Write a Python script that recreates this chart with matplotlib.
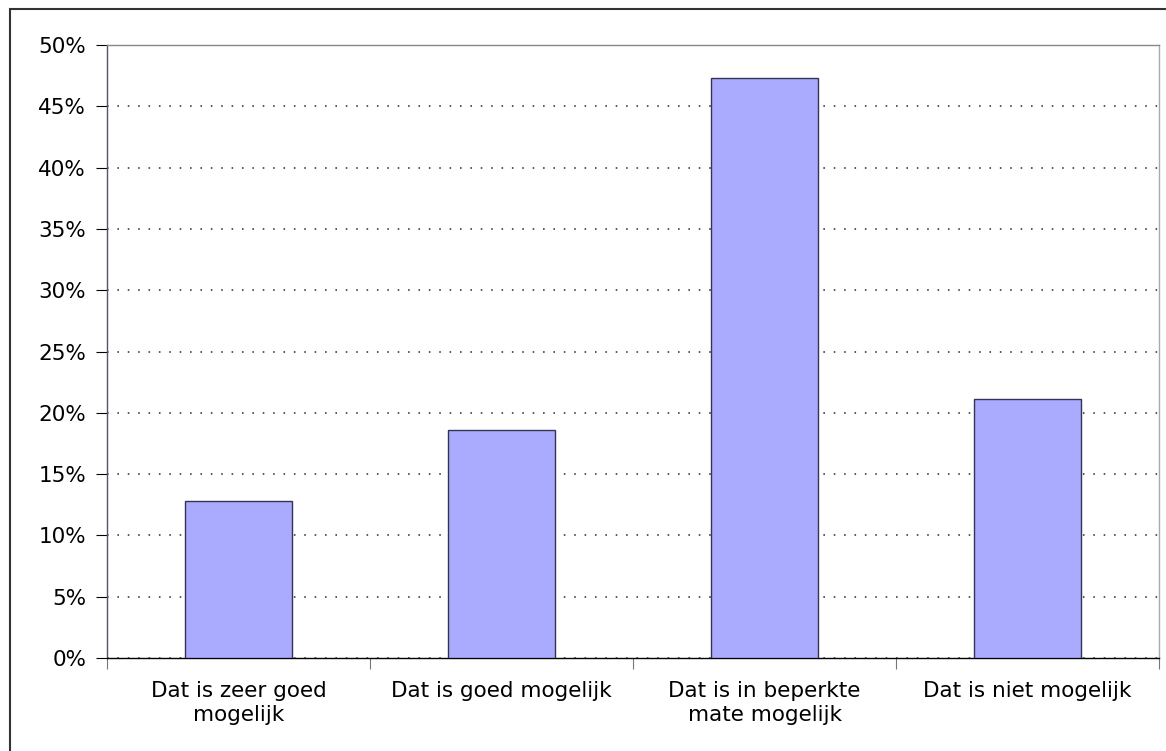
import matplotlib.pyplot as plt
import numpy as np
from matplotlib.patches import Rectangle

###############################################################################
# Data
categories = ["Dat is zeer goed\nmogelijk", "Dat is goed mogelijk",
              "Dat is in beperkte\nmate mogelijk", "Dat is niet mogelijk"]
values = [12.8, 18.6, 47.3, 21.1]
yticks = [0, 5, 10, 15, 20, 25, 30, 35, 40, 45, 50]

###############################################################################
# Plot
W, H = 1166, 751
fig = plt.figure(figsize=(W / 100, H / 100), dpi=100)
ax = fig.add_axes([107 / W, 1 - 658 / H, (1159 - 107) / W, (658 - 45) / H])

x = np.arange(len(categories))
ax.bar(x, values, width=0.405, color='#aaaaff', edgecolor='#333355',
       linewidth=1.0, zorder=3)

ax.set_xlim(-0.5, len(categories) - 0.5)
ax.set_ylim(0, 50)
ax.set_yticks(yticks)
ax.set_yticklabels([f"{v}%" for v in yticks], fontsize=15.5)
ax.yaxis.grid(True, linestyle=(0, (1, 5.5)), color='#333333', linewidth=1.15,
              zorder=0)

# Category labels centred under bars, ticks at category boundaries
ax.set_xticks(np.arange(len(categories) + 1) - 0.5)
ax.set_xticklabels([])
ax.tick_params(axis='x', direction='out', length=8, color='#777777')
ax.tick_params(axis='y', direction='out', length=8, color='black', pad=7)
for xi, lab in zip(x, categories):
    ax.text(xi, -1.85, lab, ha='center', va='top', fontsize=15.5,
            linespacing=1.25)

ax.spines['top'].set_color('#888888')
ax.spines['right'].set_color('#aaaaaa')
ax.spines['left'].set_color('#555566')
ax.spines['bottom'].set_color('black')
for s in ax.spines.values():
    s.set_linewidth(1.0)

# Outer frame around the chart area
fig.patches.append(Rectangle((10 / W, -0.1), 1.2, 1 - 9 / H + 0.1,
                             transform=fig.transFigure, fill=False,
                             edgecolor='#333333', linewidth=1.5))

fig.savefig("out.png", dpi=100)
